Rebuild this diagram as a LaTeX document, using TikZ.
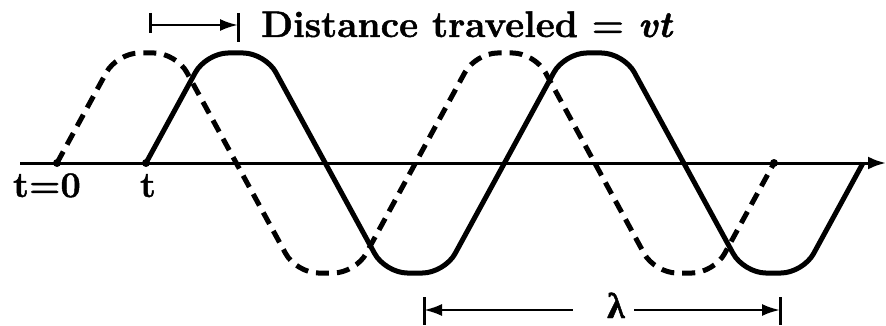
\documentclass[tikz,border=0pt]{standalone}
\usepackage{fontspec}
\setmainfont{Latin Modern Roman}[BoldFeatures={FakeBold=1.3}, BoldItalicFeatures={FakeBold=1.3}]
\newfontfamily\grkfont{Liberation Serif}[BoldFeatures={FakeBold=1.3}]
\usetikzlibrary{arrows.meta}
\begin{document}
\begin{tikzpicture}[x=1pt,y=-1pt,
  wave/.style={line width=5pt, rounded corners=22pt, line join=round},
  dashwave/.style={wave, dash pattern=on 13pt off 8pt},
  lbl/.style={font=\fontsize{36}{40}\selectfont\bfseries, inner sep=0pt},
  biglbl/.style={font=\fontsize{37}{42}\selectfont\bfseries, inner sep=0pt},
  dimline/.style={line width=2.5pt, -{Latex[length=18pt,width=12pt]}},
  bar/.style={line width=3pt},
  endpt/.style={circle, fill, inner sep=0pt, minimum size=8pt}]
\useasboundingbox (0,0) rectangle (886,326);
% axis
\coordinate (ax0) at (20,163);
\coordinate (ax1) at (886,163);
\draw[line width=3pt, -{Latex[length=18pt,width=13pt]}] (ax0) -- (ax1);
% dashed wave (t=0)
\draw[dashwave] (57,163) -- (117,53) -- (176.25,53) -- (236.25,163) -- (296.25,273) -- (355.5,273) -- (415.5,163) -- (475.5,53) -- (534.75,53) -- (594.75,163) -- (654.75,273) -- (714,273) -- (774,163);
% solid wave (t)
\draw[wave] (146,163) -- (206,53) -- (265.25,53) -- (325.25,163) -- (385.25,273) -- (444.5,273) -- (504.5,163) -- (564.5,53) -- (623.75,53) -- (683.75,163) -- (743.75,273) -- (803,273) -- (863,163);
% end points
\node[endpt] (p0) at (57,163) {};
\node[endpt] (p1) at (146,163) {};
\node[endpt] (p2) at (774,163) {};
% labels
\node[lbl, anchor=base] (l0) at (47,197) {t=0};
\node[lbl, anchor=base] (l1) at (148,197) {t};
\node[biglbl, anchor=base west] (dist) at (261,37) {Distance traveled = \textit{vt}};
\node[lbl, anchor=base] (lam) at (616,318) {\grkfont\bfseries λ};
% distance arrow
\coordinate (dA) at (150,25);
\coordinate (dB) at (238,25);
\draw[dimline] (dA) -- (dB);
\draw[bar] ([yshift=12pt]dA) -- ([yshift=-8pt]dA);
\draw[bar] ([yshift=12pt]dB) -- ([yshift=-17pt]dB);
% lambda arrows
\coordinate (lamL) at (424,310);
\coordinate (lamR) at (780,310);
\draw[dimline, shorten <=34pt] (lam.west |- lamL) -- (lamL);
\draw[dimline, shorten <=9pt] (lam.east |- lamR) -- (lamR);
\draw[bar] ([yshift=13pt]lamL) -- ([yshift=-15pt]lamL);
\draw[bar] ([yshift=13pt]lamR) -- ([yshift=-15pt]lamR);
\end{tikzpicture}
\end{document}
